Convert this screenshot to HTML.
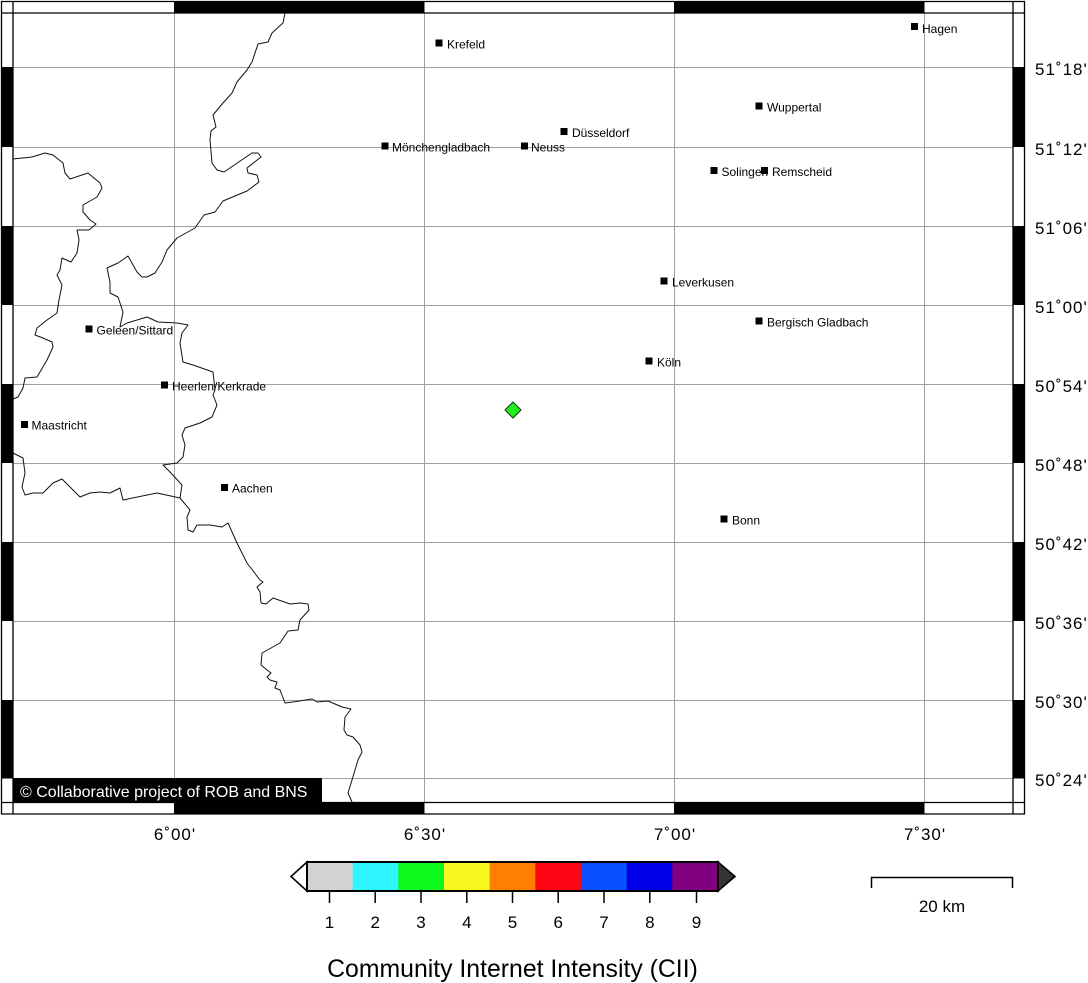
<!DOCTYPE html>
<html><head><meta charset="utf-8"><style>
html,body{margin:0;padding:0;background:#fff;}
svg{display:block;}
text{font-family:"Liberation Sans",Arial,sans-serif;}
</style></head><body>
<svg width="1088" height="983" viewBox="0 0 1088 983" xmlns="http://www.w3.org/2000/svg">
<rect x="0" y="0" width="1088" height="983" fill="#fff"/>
<!-- gridlines -->
<g stroke="#a0a0a0" stroke-width="1" fill="none">
<line x1="174.5" y1="13" x2="174.5" y2="802"/>
<line x1="424.5" y1="13" x2="424.5" y2="802"/>
<line x1="674.5" y1="13" x2="674.5" y2="802"/>
<line x1="924.5" y1="13" x2="924.5" y2="802"/>
<line x1="13" y1="67.5" x2="1013" y2="67.5"/>
<line x1="13" y1="147.5" x2="1013" y2="147.5"/>
<line x1="13" y1="226.5" x2="1013" y2="226.5"/>
<line x1="13" y1="305.5" x2="1013" y2="305.5"/>
<line x1="13" y1="384.5" x2="1013" y2="384.5"/>
<line x1="13" y1="463.5" x2="1013" y2="463.5"/>
<line x1="13" y1="542.5" x2="1013" y2="542.5"/>
<line x1="13" y1="621.5" x2="1013" y2="621.5"/>
<line x1="13" y1="700.5" x2="1013" y2="700.5"/>
<line x1="13" y1="778.5" x2="1013" y2="778.5"/>
</g>
<!-- borders -->
<g stroke="#111" stroke-width="1" fill="none" stroke-linejoin="round">
<polyline points="285,13 283,23 272,33 268,42 258,44 252,62 247,70 237,82 232,93 223,103 213,115 216,127 211,131 210,140 212,163 217,170 224,172 252,153 258,153 261,157 247,168 248,173 257,175 259,182 247,191 223,201 215,212 204,215 195,228 177,238 167,250 162,262 155,273 147,277 142,277 137,272 128,256 118,263 107,268 110,282 110,293 118,297 123,312 120,327 127,323 147,317 158,322 177,323 188,325 182,333 180,343 183,362 193,365 213,372 215,390 213,395 217,405 212,417 200,423 185,428 182,435 185,445 183,457 177,463 163,465 170,472 182,485 180,498 190,510 187,517 188,530 193,532 197,525 210,525 222,527 228,523 237,543 247,563 260,580 263,582 257,587 260,592 261,603 266,604 273,598 290,604 300,603 308,604 309,610 300,620 298,630 288,631 280,643 262,653 261,665 267,670 271,673 267,677 270,680 277,682 275,688 280,690 285,703 293,702 312,699 317,702 328,701 342,707 351,709 345,717 344,730 347,735 353,737 360,745 362,752 358,760 355,770 352,780 348,793 352,802"/>
<polyline points="13,453 23,458 25,473 22,487 25,495 33,493 43,493 53,483 62,479 70,487 80,497 90,493 100,492 110,493 120,488 123,500 157,493 180,498"/>
<polyline points="13,159 32,157 45,153 53,155 63,163 65,173 70,179 88,173 100,183 102,188 97,197 83,205 83,212 90,220 96,224 89,230 77,230 79,240 77,253 71,262 62,258 60,270 57,275 62,285 59,300 57,313 47,320 37,328 35,335 43,338 52,342 53,347 47,360 37,377 25,378 23,388 18,397 13,399"/>
</g>
<!-- cities -->
<g fill="#000">
<rect x="435.5" y="39.5" width="7" height="7"/>
<rect x="911" y="23" width="7" height="7"/>
<rect x="755.5" y="102.5" width="7" height="7"/>
<rect x="560.5" y="128" width="7" height="7"/>
<rect x="381.5" y="142.5" width="7" height="7"/>
<rect x="521" y="142.5" width="7" height="7"/>
<rect x="710.5" y="167" width="7" height="7"/>
<rect x="761" y="167" width="7" height="7"/>
<rect x="660.5" y="277.5" width="7" height="7"/>
<rect x="755.5" y="317.5" width="7" height="7"/>
<rect x="85.5" y="325.5" width="7" height="7"/>
<rect x="645.5" y="357.5" width="7" height="7"/>
<rect x="161" y="381.5" width="7" height="7"/>
<rect x="21" y="421" width="7" height="7"/>
<rect x="221" y="484" width="7" height="7"/>
<rect x="720.5" y="515.5" width="7" height="7"/>
</g>
<g font-size="12" fill="#000">
<text x="447" y="48.5">Krefeld</text>
<text x="922" y="33">Hagen</text>
<text x="767" y="111.5">Wuppertal</text>
<text x="572" y="137">Düsseldorf</text>
<text x="392" y="151.5">Mönchengladbach</text>
<text x="531" y="151.5">Neuss</text>
<text x="721.5" y="176">Solingen</text>
<text x="772" y="176">Remscheid</text>
<text x="672" y="286.5">Leverkusen</text>
<text x="767" y="326.5">Bergisch Gladbach</text>
<text x="96.5" y="334.5">Geleen/Sittard</text>
<text x="657" y="366.5">Köln</text>
<text x="172" y="390.5">Heerlen/Kerkrade</text>
<text x="31.5" y="429.5">Maastricht</text>
<text x="232" y="492.5">Aachen</text>
<text x="732" y="524.5">Bonn</text>
</g>
<!-- epicenter -->
<polygon points="513,402 521,410 513,418 505,410" fill="#22ee22" stroke="#0a3a0a" stroke-width="1"/>
<!-- copyright -->
<rect x="13" y="778" width="309" height="24" fill="#000"/>
<text x="20" y="797" font-size="16" fill="#fff">© Collaborative project of ROB and BNS</text>
<!-- frame -->
<rect x="1" y="1" width="1024" height="12" fill="#fff"/>
<rect x="1" y="802" width="1024" height="12" fill="#fff"/>
<rect x="1" y="1" width="12" height="813" fill="#fff"/>
<rect x="1013" y="1" width="12" height="813" fill="#fff"/>
<g fill="#000">
<rect x="174" y="1" width="250.5" height="12"/>
<rect x="674" y="1" width="250.5" height="12"/>
<rect x="174" y="802" width="250.5" height="12"/>
<rect x="674" y="802" width="250.5" height="12"/>
<rect x="1" y="67" width="12" height="80"/>
<rect x="1" y="226" width="12" height="79"/>
<rect x="1" y="384" width="12" height="79"/>
<rect x="1" y="542" width="12" height="79"/>
<rect x="1" y="700" width="12" height="78.5"/>
<rect x="1013" y="67" width="12" height="80"/>
<rect x="1013" y="226" width="12" height="79"/>
<rect x="1013" y="384" width="12" height="79"/>
<rect x="1013" y="542" width="12" height="79"/>
<rect x="1013" y="700" width="12" height="78.5"/>
</g>
<g stroke="#000" stroke-width="1.3" fill="none">
<line x1="1.5" y1="1" x2="1.5" y2="814.5"/>
<line x1="13" y1="1" x2="13" y2="814.5"/>
<line x1="1013" y1="1" x2="1013" y2="814.5"/>
<line x1="1024.5" y1="1" x2="1024.5" y2="814.5"/>
<line x1="1" y1="1.5" x2="1025" y2="1.5"/>
<line x1="1" y1="13" x2="1025" y2="13"/>
<line x1="1" y1="802.5" x2="1025" y2="802.5"/>
<line x1="1" y1="814" x2="1025" y2="814"/>
</g>
<!-- axis labels -->
<g font-size="17" fill="#000" letter-spacing="1">
<text x="1035" y="75">51˚18'</text>
<text x="1035" y="155">51˚12'</text>
<text x="1035" y="234">51˚06'</text>
<text x="1035" y="313">51˚00'</text>
<text x="1035" y="392">50˚54'</text>
<text x="1035" y="471">50˚48'</text>
<text x="1035" y="550">50˚42'</text>
<text x="1035" y="629">50˚36'</text>
<text x="1035" y="708">50˚30'</text>
<text x="1035" y="786">50˚24'</text>
</g>
<g font-size="17" fill="#000" letter-spacing="1" text-anchor="middle">
<text x="175" y="840">6˚00'</text>
<text x="425" y="840">6˚30'</text>
<text x="675" y="840">7˚00'</text>
<text x="925" y="840">7˚30'</text>
</g>
<!-- colorbar -->
<g>
<rect x="307" y="862" width="46" height="29" fill="#d2d2d2"/>
<rect x="352.7" y="862" width="46" height="29" fill="#2ef5ff"/>
<rect x="398.3" y="862" width="46" height="29" fill="#0ef81e"/>
<rect x="444" y="862" width="46" height="29" fill="#f8f820"/>
<rect x="489.7" y="862" width="46" height="29" fill="#ff8000"/>
<rect x="535.3" y="862" width="46" height="29" fill="#ff0414"/>
<rect x="581" y="862" width="46" height="29" fill="#0a50ff"/>
<rect x="626.7" y="862" width="46" height="29" fill="#0000e6"/>
<rect x="672.3" y="862" width="45.7" height="29" fill="#80007e"/>
<polygon points="307,862 291,876.5 307,891" fill="#fff" stroke="#000" stroke-width="1.6" stroke-linejoin="miter"/>
<polygon points="718,862 735,876.5 718,891" fill="#333" stroke="#000" stroke-width="1.6" stroke-linejoin="miter"/>
<rect x="307" y="862" width="411" height="29" fill="none" stroke="#000" stroke-width="2"/>
</g>
<g stroke="#000" stroke-width="1.5">
<line x1="329.5" y1="892" x2="329.5" y2="903"/>
<line x1="375.2" y1="892" x2="375.2" y2="903"/>
<line x1="421" y1="892" x2="421" y2="903"/>
<line x1="466.8" y1="892" x2="466.8" y2="903"/>
<line x1="512.5" y1="892" x2="512.5" y2="903"/>
<line x1="558.2" y1="892" x2="558.2" y2="903"/>
<line x1="604" y1="892" x2="604" y2="903"/>
<line x1="649.8" y1="892" x2="649.8" y2="903"/>
<line x1="696.5" y1="892" x2="696.5" y2="903"/>
</g>
<g font-size="17" fill="#000" text-anchor="middle">
<text x="329.5" y="928">1</text>
<text x="375.2" y="928">2</text>
<text x="421" y="928">3</text>
<text x="466.8" y="928">4</text>
<text x="512.5" y="928">5</text>
<text x="558.2" y="928">6</text>
<text x="604" y="928">7</text>
<text x="649.8" y="928">8</text>
<text x="696.5" y="928">9</text>
</g>
<text x="512.5" y="977" font-size="24.8" fill="#000" text-anchor="middle">Community Internet Intensity (CII)</text>
<!-- scale bar -->
<polyline points="871.5,888 871.5,877.5 1012.5,877.5 1012.5,888" fill="none" stroke="#000" stroke-width="1.5"/>
<text x="942" y="912" font-size="17" fill="#000" text-anchor="middle">20 km</text>
</svg>
</body></html>
